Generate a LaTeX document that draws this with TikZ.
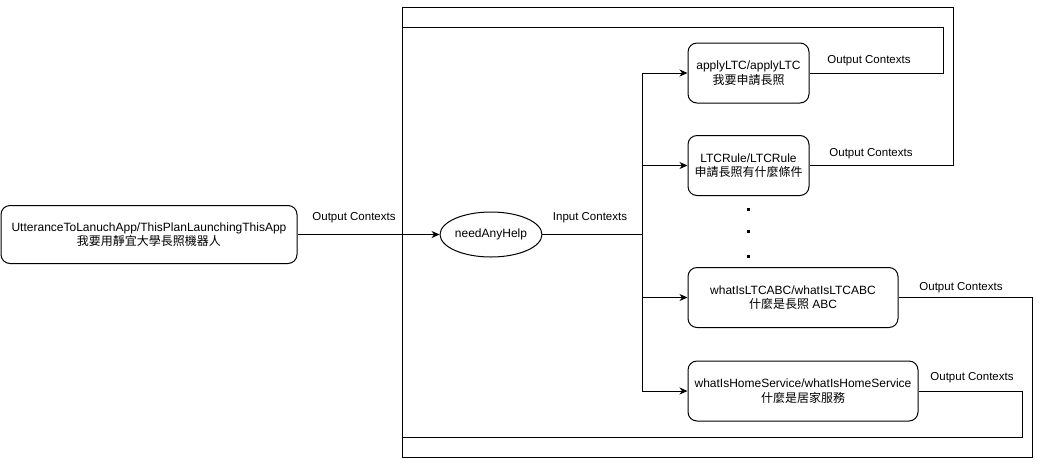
\documentclass[tikz,border=0pt]{standalone}
\usepackage{fontspec}
\setmainfont{Liberation Sans}
\newfontfamily\cjk{Noto Sans CJK TC}
\usetikzlibrary{shapes.geometric,arrows.meta}
\begin{document}
\begin{tikzpicture}[x=1pt,y=-1pt,
  every node/.style={font=\fontsize{12}{14.5}\selectfont},
  intent/.style={draw=black,line width=1pt,rounded corners=9pt,fill=white,align=center,inner sep=0pt,minimum height=60pt},
  ctx/.style={draw=black,ellipse,line width=1pt,fill=white,inner sep=0pt,minimum width=100pt,minimum height=45pt},
  lbl/.style={inner sep=0pt,anchor=center,font=\fontsize{11.5}{14}\selectfont},
  wire/.style={draw=black,line width=1pt},
  arr/.style={wire,-{Stealth[length=8pt,width=7pt,inset=2.5pt]}},
  dotmark/.style={fill=black,inner sep=0pt,minimum size=3pt}]
\useasboundingbox (0,0) rectangle (1042,467);

% nodes
\node[intent,minimum width=296pt,minimum height=58pt] (utt) at (149,234.5)
  {UtteranceToLanuchApp/ThisPlanLaunchingThisApp\\{\cjk 我要用靜宜大學長照機器人}};
\node[ctx] (help) at (491,234.5) {needAnyHelp};
\node[intent,minimum width=121pt] (apply) at (748.5,73) {applyLTC/applyLTC\\{\cjk 我要申請長照}};
\node[intent,minimum width=121pt] (rule) at (748.5,165.5) {LTCRule/LTCRule\\{\cjk 申請長照有什麼條件}};
\node[intent,minimum width=210pt] (abc) at (793,297.5) {whatIsLTCABC/whatIsLTCABC\\{\cjk 什麼是長照} ABC};
\node[intent,minimum width=230pt] (home) at (803,391) {whatIsHomeService/whatIsHomeService\\{\cjk 什麼是居家服務}};

\node[dotmark] (d1) at (748,209) {};
\node[dotmark] (d2) at (748,231) {};
\node[dotmark] (d3) at (748,256) {};

% junction coordinates
\coordinate (bus) at (642.5,234.5);
\coordinate (merge) at (402.5,234.5);
\coordinate (a1) at (943,27);
\coordinate (a2) at (402.5,27);
\coordinate (b1) at (953,7.5);
\coordinate (b2) at (402.5,7.5);
\coordinate (c1) at (1032,457.5);
\coordinate (c2) at (402.5,457.5);
\coordinate (e1) at (1022,437);
\coordinate (e2) at (402.5,437);

% main flow
\draw[arr] (utt.east) -- (help.west);
\draw[wire] (help.east) -- (bus);
\draw[arr] (bus) |- (apply.west);
\draw[arr] (bus) |- (rule.west);
\draw[arr] (bus) |- (abc.west);
\draw[arr] (bus) |- (home.west);

% feedback loops
\draw[wire] (apply.east) -| (a1) -- (a2) -- (merge);
\draw[wire] (rule.east) -| (b1) -- (b2) -- (merge);
\draw[wire] (abc.east) -| (c1) -- (c2) -- (merge);
\draw[wire] (home.east) -| (e1) -- (e2) -- (merge);

% labels
\node[lbl] (l0) at (354,218) {Output Contexts};
\node[lbl] (l1) at (590,218) {Input Contexts};
\node[lbl] (l2) at (869,61) {Output Contexts};
\node[lbl] (l3) at (871,154) {Output Contexts};
\node[lbl] (l4) at (961,288) {Output Contexts};
\node[lbl] (l5) at (972,378) {Output Contexts};
\end{tikzpicture}
\end{document}
